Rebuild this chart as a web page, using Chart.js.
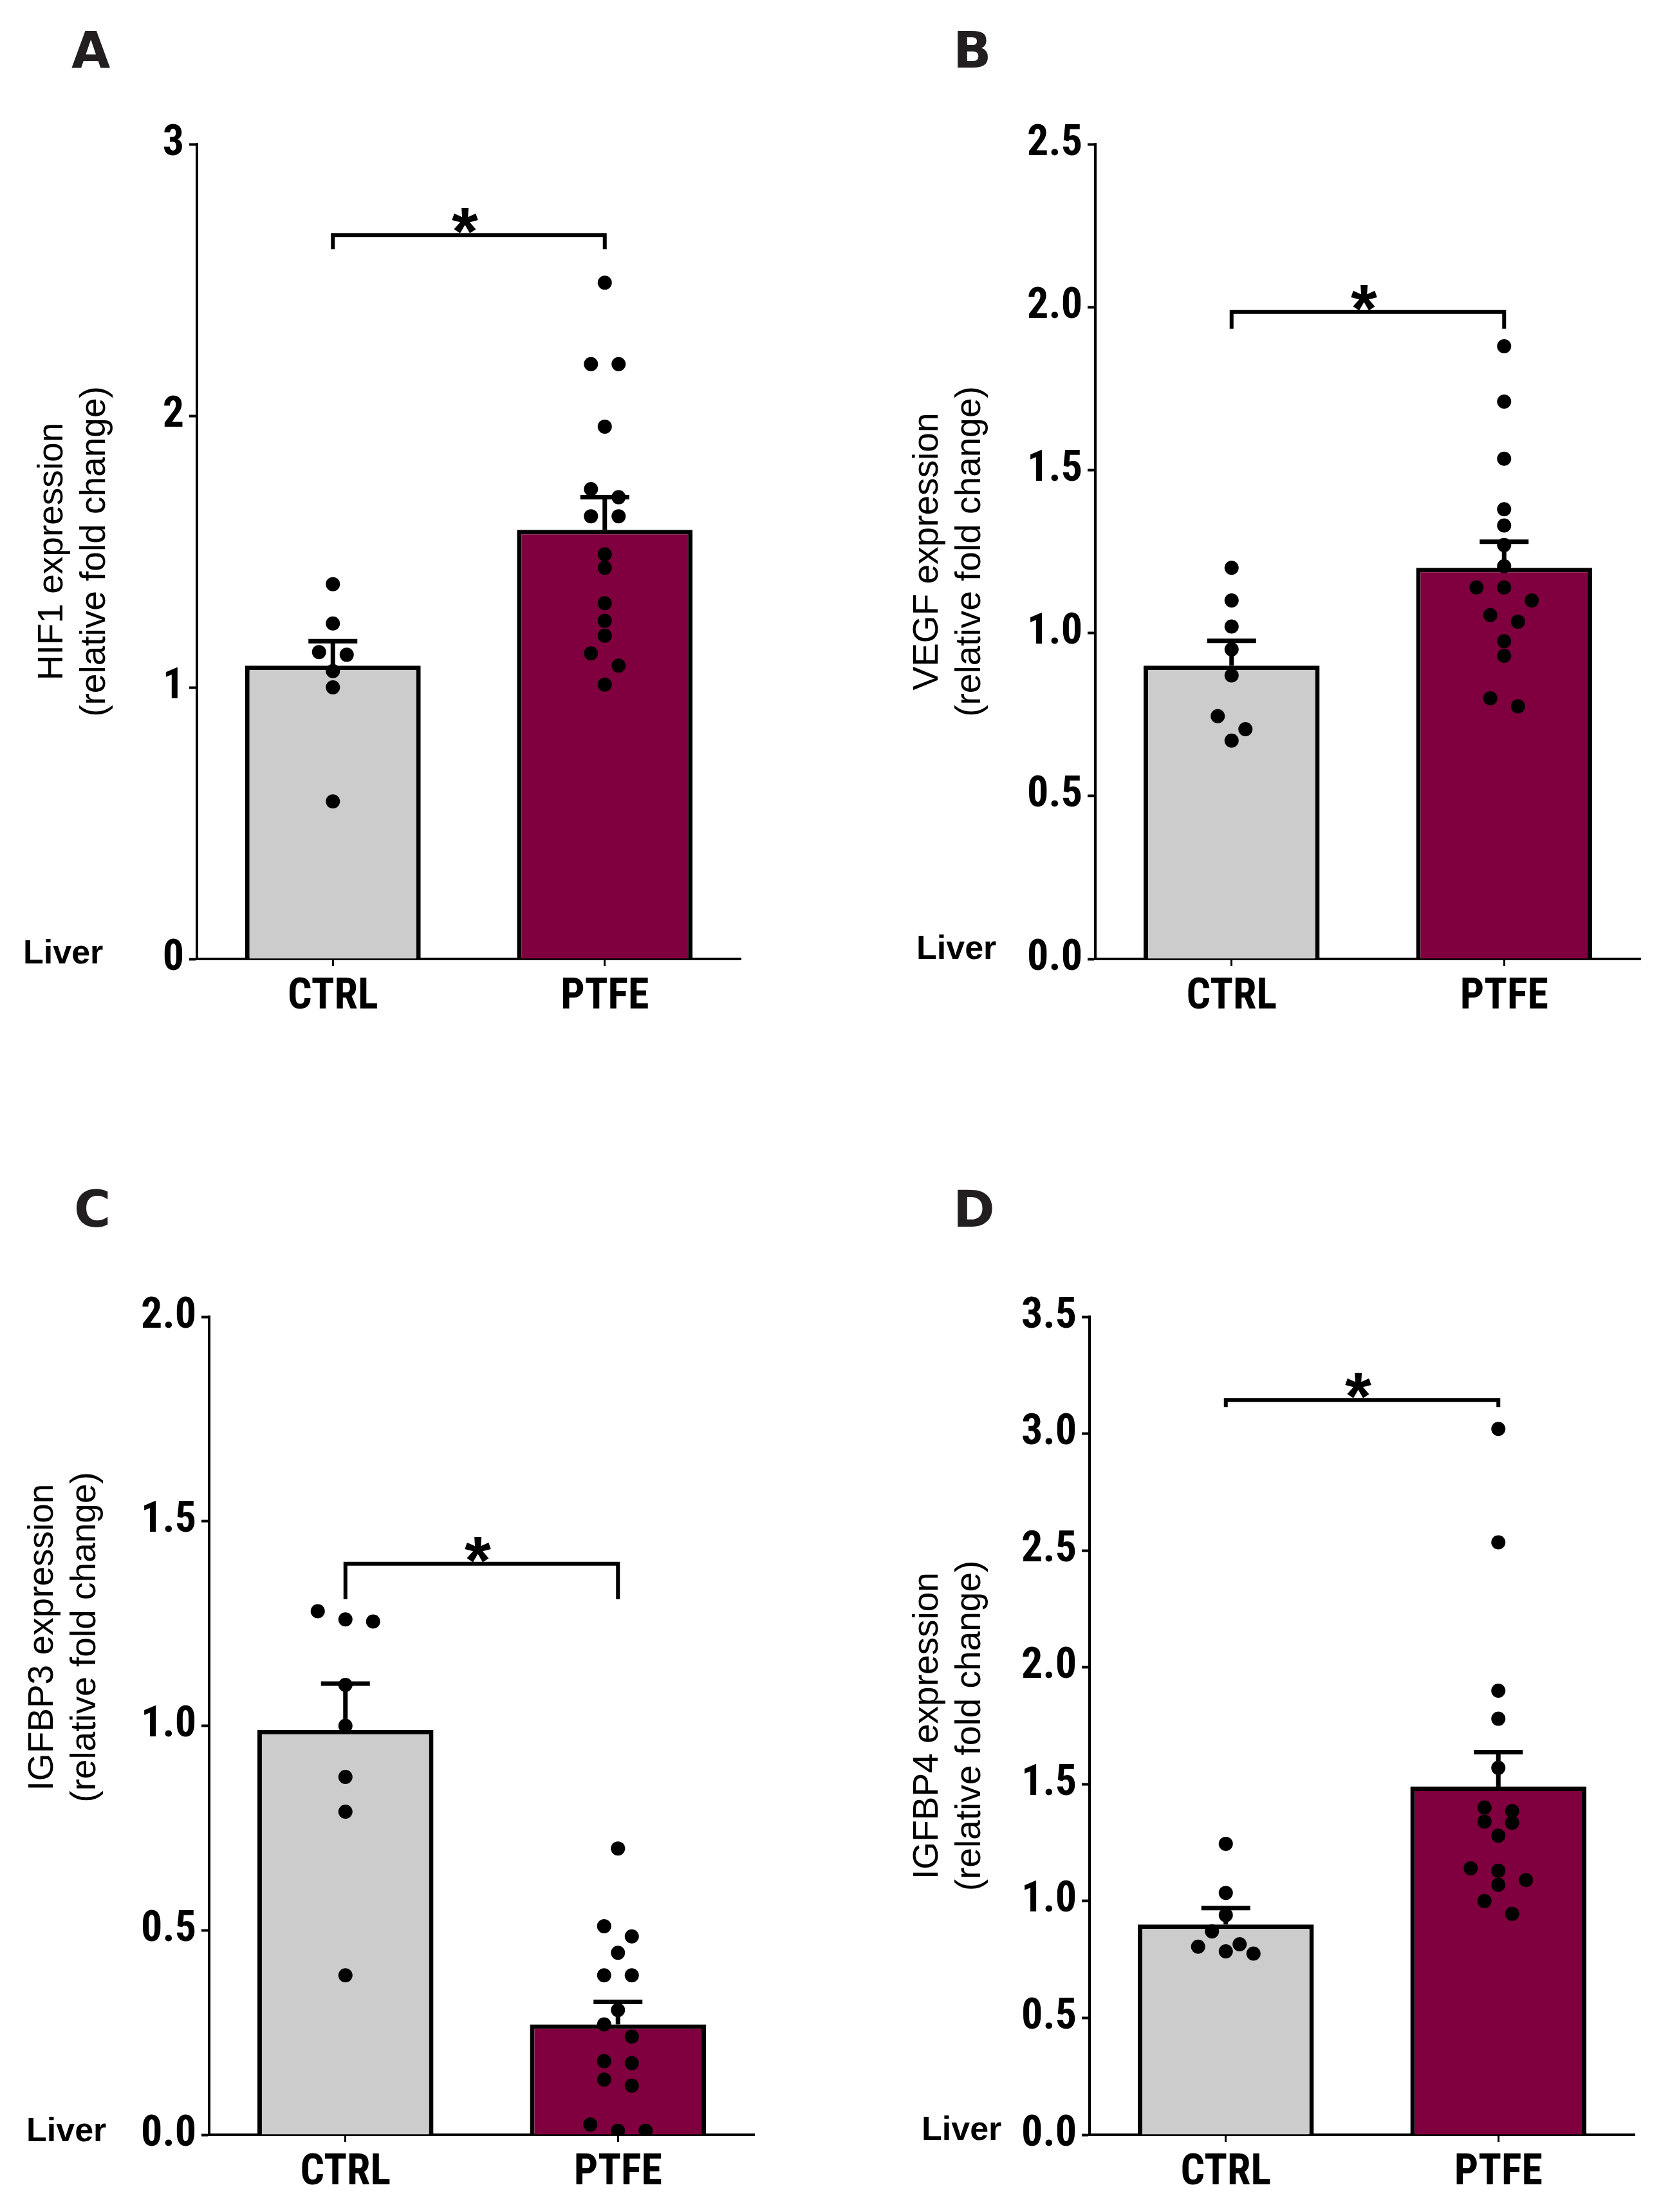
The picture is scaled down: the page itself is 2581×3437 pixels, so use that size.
<!DOCTYPE html>
<html lang="en">
<head>
  <meta charset="UTF-8" />
  <title>Liver expression, CTRL vs PTFE</title>
  <style>
    html, body { margin: 0; padding: 0; background: #fff; }
    body { width: 2581px; height: 3437px; position: relative; overflow: hidden; }
    canvas { position: absolute; }
  </style>
</head>
<body>
  <canvas id="panelA" width="1290" height="1718" style="left:0;top:0"></canvas>
  <canvas id="panelB" width="1291" height="1718" style="left:1290px;top:0"></canvas>
  <canvas id="panelC" width="1290" height="1719" style="left:0;top:1718px"></canvas>
  <canvas id="panelD" width="1291" height="1719" style="left:1290px;top:1718px"></canvas>

  <script src="https://cdn.jsdelivr.net/npm/chart.js"></script>
  <script>
    const groups = ['CTRL', 'PTFE'];

    // A - HIF1
    const hif1Ctrl = [1.38, 1.235, 1.13, 1.12, 1.06, 1.00, 0.58];
    const hif1Ptfe = [2.49, 2.19, 2.19, 1.96, 1.73, 1.70, 1.63, 1.63, 1.49, 1.44, 1.31, 1.245, 1.19, 1.125, 1.08, 1.01];
    const hif1Mean = [1.08, 1.58];
    const hif1Sem = [0.09, 0.12];
    const hif1Ticks = ['0', '1', '2', '3'];
    const hif1Bracket = 2.665;

    // B - VEGF
    const vegfCtrl = [1.20, 1.10, 1.02, 0.95, 0.87, 0.745, 0.705, 0.67];
    const vegfPtfe = [1.88, 1.71, 1.535, 1.38, 1.33, 1.27, 1.205, 1.14, 1.14, 1.10, 1.055, 1.035, 0.975, 0.93, 0.80, 0.775];
    const vegfMean = [0.90, 1.20];
    const vegfSem = [0.076, 0.08];
    const vegfTicks = ['0.0', '0.5', '1.0', '1.5', '2.0', '2.5'];
    const vegfBracket = 1.985;

    // C - IGFBP3
    const igfbp3Ctrl = [1.28, 1.26, 1.255, 1.10, 1.00, 0.875, 0.79, 0.39];
    const igfbp3Ptfe = [0.70, 0.51, 0.485, 0.445, 0.39, 0.39, 0.305, 0.27, 0.24, 0.18, 0.175, 0.135, 0.12, 0.025, 0.01, 0.01];
    const igfbp3Mean = [0.99, 0.27];
    const igfbp3Sem = [0.113, 0.055];
    const igfbp3Ticks = ['0.0', '0.5', '1.0', '1.5', '2.0'];
    const igfbp3Bracket = 1.396;

    // D - IGFBP4
    const igfbp4Ctrl = [1.245, 1.035, 0.94, 0.87, 0.815, 0.805, 0.785, 0.775];
    const igfbp4Ptfe = [3.02, 2.535, 1.90, 1.78, 1.57, 1.40, 1.385, 1.34, 1.335, 1.28, 1.14, 1.13, 1.09, 1.07, 1.00, 0.945];
    const igfbp4Mean = [0.90, 1.49];
    const igfbp4Sem = [0.07, 0.147];
    const igfbp4Ticks = ['0.0', '0.5', '1.0', '1.5', '2.0', '2.5', '3.0', '3.5'];
    const igfbp4Bracket = 3.144;

    // pick the narrowest bold face that is actually installed
    function hasFont(name) {
      const c = document.createElement('canvas').getContext('2d');
      c.font = 'bold 100px monospace';
      const base = c.measureText('CTRL 0.5 abcmw').width;
      c.font = `bold 100px '${name}', monospace`;
      return c.measureText('CTRL 0.5 abcmw').width !== base;
    }
    const narrowFace = ['Liberation Sans Narrow', 'Arial Narrow', 'Roboto Condensed', 'Nimbus Sans Narrow',
      'Open Sans Condensed', 'Noto Sans Condensed', 'DejaVu Sans Condensed'].find(hasFont) || 'Liberation Sans';
    const narrow = `'${narrowFace}', 'Liberation Sans', sans-serif`;

    const DOT_R = 11;
    const STEP_PX = 43;   // sideways spacing of dots
    const ROW_PX = 20.5;  // dots closer than this share a row
    const CAP_HALF = 38;

    // simple GraphPad-like swarm: near-equal values side by side, centred
    function swarm(values, group, pxPerY, pxPerX) {
      const sorted = values.slice().sort((a, b) => b - a);
      const rows = [];
      sorted.forEach(v => {
        const row = rows[rows.length - 1];
        if (row && (row[0] - v) * pxPerY <= ROW_PX) row.push(v);
        else rows.push([v]);
      });
      const pts = [];
      rows.forEach(row => row.forEach((v, i) => {
        pts.push({ x: group + (i - (row.length - 1) / 2) * STEP_PX / pxPerX, y: v });
      }));
      return pts;
    }

    function extras(p) {
      return {
        id: 'extras' + p.letter,
        afterDatasetDraw(chart, args) {
          if (args.meta.type !== 'bar') return;
          const { ctx, scales: { x, y } } = chart;
          ctx.save();
          ctx.strokeStyle = '#000';
          ctx.lineWidth = 7;
          p.mean.forEach((m, i) => {
            const cx = x.getPixelForValue(i);
            const y0 = y.getPixelForValue(m);
            const y1 = y.getPixelForValue(m + p.sem[i]);
            ctx.beginPath();
            ctx.moveTo(cx, y0);
            ctx.lineTo(cx, y1);
            ctx.moveTo(cx - CAP_HALF, y1);
            ctx.lineTo(cx + CAP_HALF, y1);
            ctx.stroke();
          });
          ctx.restore();
        },
        afterDraw(chart) {
          const { ctx, scales: { x, y } } = chart;
          const x0 = x.getPixelForValue(0);
          const x1 = x.getPixelForValue(1);
          const yb = y.getPixelForValue(p.bracket);
          ctx.save();
          ctx.strokeStyle = '#000';
          ctx.lineWidth = 6;
          ctx.beginPath();
          ctx.moveTo(x0, yb + p.drop);
          ctx.lineTo(x0, yb);
          ctx.lineTo(x1, yb);
          ctx.lineTo(x1, yb + p.drop);
          ctx.stroke();

          ctx.fillStyle = '#000';
          ctx.textAlign = 'center';
          ctx.textBaseline = 'alphabetic';
          ctx.font = "bold 105px 'Liberation Sans', Arial, sans-serif";
          ctx.fillText('*', (x0 + x1) / 2 - 6, yb + 31);

          ctx.textAlign = 'left';
          ctx.font = "bold 52px 'Liberation Sans', Arial, sans-serif";
          ctx.fillText('Liver', p.liver[0], p.liver[1]);

          ctx.fillStyle = '#231f20';
          ctx.font = "bold 78px 'DejaVu Sans', sans-serif";
          ctx.fillText(p.letter, p.letterAt[0], p.letterAt[1]);
          ctx.restore();
        }
      };
    }

    function makePanel(p) {
      const canvas = document.getElementById(p.id);
      const a = p.area;
      const yValues = p.ticks.map(Number);
      const yMax = yValues[yValues.length - 1];
      const pxPerY = (a.bottom - a.top) / yMax;
      const pxPerX = (a.right - a.left) / 2;
      const shift = '\u2003'.repeat(p.titleShift || 0);

      new Chart(canvas, {
        type: 'bar',
        data: {
          datasets: [
            {
              data: groups.map((g, i) => ({ x: i, y: p.mean[i] })),
              backgroundColor: ['#cccccc', '#80003f'],
              borderColor: '#000',
              borderWidth: 7,
              categoryPercentage: 1,
              barPercentage: 0.646,
              order: 1
            },
            {
              type: 'scatter',
              data: swarm(p.ctrl, 0, pxPerY, pxPerX).concat(swarm(p.ptfe, 1, pxPerY, pxPerX)),
              backgroundColor: '#000',
              borderWidth: 0,
              pointRadius: DOT_R,
              order: 0
            }
          ]
        },
        options: {
          responsive: false,
          animation: false,
          devicePixelRatio: 1,
          layout: { padding: { top: a.top, right: canvas.width - a.right, bottom: 0, left: 0 } },
          plugins: { legend: { display: false }, tooltip: { enabled: false } },
          scales: {
            x: {
              type: 'linear',
              min: -0.5,
              max: 1.5,
              offset: false,
              afterBuildTicks: s => { s.ticks = groups.map((g, i) => ({ value: i })); },
              afterFit: s => { s.height = canvas.height - a.bottom; },
              grid: { offset: false, drawOnChartArea: false, drawTicks: true, tickLength: 11, tickWidth: 3, tickColor: '#000', color: '#000' },
              border: { color: '#000', width: 4 },
              ticks: {
                callback: v => groups[v],
                font: { family: narrow, size: 66, weight: 'bold' },
                color: '#000',
                padding: 10,
                maxRotation: 0,
                autoSkip: false
              }
            },
            y: {
              min: 0,
              max: yMax,
              afterBuildTicks: s => { s.ticks = yValues.map(v => ({ value: v })); },
              afterFit: s => { s.width = a.left; },
              grid: { drawOnChartArea: false, drawTicks: true, tickLength: 12, tickWidth: 4, tickColor: '#000', color: '#000' },
              border: { color: '#000', width: 4 },
              ticks: {
                callback: (v, i) => p.ticks[i],
                font: { family: narrow, size: 66, weight: 'bold' },
                color: '#000',
                padding: 8
              },
              title: {
                display: true,
                text: [shift + p.title, shift + '(relative fold change)'],
                font: { family: "'Liberation Sans', Arial, sans-serif", size: 55 },
                color: '#000',
                padding: { top: p.titlePad, bottom: 0 }
              }
            }
          }
        },
        plugins: [extras(p)]
      });
    }

    makePanel({
      id: 'panelA', letter: 'A', title: 'HIF1 expression',
      ctrl: hif1Ctrl, ptfe: hif1Ptfe, mean: hif1Mean, sem: hif1Sem, ticks: hif1Ticks, bracket: hif1Bracket,
      area: { left: 306, top: 224, right: 1151, bottom: 1490 },
      titlePad: 49, drop: 22, liver: [36, 1497], letterAt: [111, 105]
    });
    makePanel({
      id: 'panelB', letter: 'B', title: 'VEGF expression',
      ctrl: vegfCtrl, ptfe: vegfPtfe, mean: vegfMean, sem: vegfSem, ticks: vegfTicks, bracket: vegfBracket,
      area: { left: 412, top: 224, right: 1259, bottom: 1490 },
      titlePad: 119, drop: 26, liver: [134, 1490], letterAt: [191, 105]
    });
    makePanel({
      id: 'panelC', letter: 'C', title: 'IGFBP3 expression',
      ctrl: igfbp3Ctrl, ptfe: igfbp3Ptfe, mean: igfbp3Mean, sem: igfbp3Sem, ticks: igfbp3Ticks, bracket: igfbp3Bracket,
      area: { left: 325, top: 328, right: 1172, bottom: 1599 },
      titlePad: 34, titleShift: 5, drop: 55, liver: [41, 1609], letterAt: [115, 188]
    });
    makePanel({
      id: 'panelD', letter: 'D', title: 'IGFBP4 expression',
      ctrl: igfbp4Ctrl, ptfe: igfbp4Ptfe, mean: igfbp4Mean, sem: igfbp4Sem, ticks: igfbp4Ticks, bracket: igfbp4Bracket,
      area: { left: 403, top: 328, right: 1250, bottom: 1599 },
      titlePad: 119, drop: 11, liver: [142, 1607], letterAt: [191, 188]
    });
  </script>
</body>
</html>
